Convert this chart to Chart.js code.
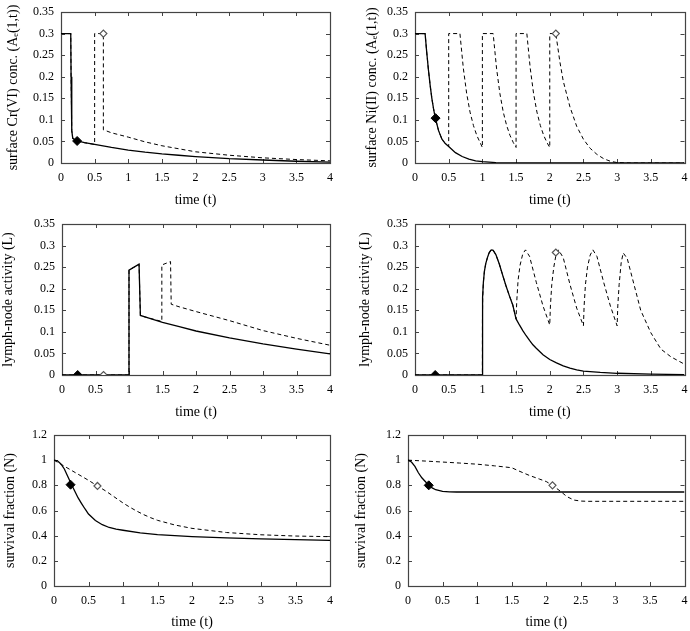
<!DOCTYPE html>
<html><head><meta charset="utf-8">
<script src="https://cdn.jsdelivr.net/npm/chart.js@4.4.1/dist/chart.umd.min.js"></script>
<style>
html,body{margin:0;padding:0;background:#fff;}
body{width:690px;height:631px;position:relative;overflow:hidden;}
canvas{position:absolute;}
</style></head><body>
<canvas id="c1" width="345" height="212" style="left:0;top:0"></canvas>
<canvas id="c2" width="345" height="212" style="left:345px;top:0"></canvas>
<canvas id="c3" width="345" height="211" style="left:0;top:212px"></canvas>
<canvas id="c4" width="345" height="211" style="left:345px;top:212px"></canvas>
<canvas id="c5" width="345" height="208" style="left:0;top:423px"></canvas>
<canvas id="c6" width="345" height="208" style="left:345px;top:423px"></canvas>
<script>
// ---- tick values and labels ----
const timeTicks = [0, 0.5, 1, 1.5, 2, 2.5, 3, 3.5, 4];
const timeTickLabels = ['0', '0.5', '1', '1.5', '2', '2.5', '3', '3.5', '4'];
const concTicks = [0, 0.05, 0.1, 0.15, 0.2, 0.25, 0.3, 0.35];
const concTickLabels = ['0', '0.05', '0.1', '0.15', '0.2', '0.25', '0.3', '0.35'];
const survTicks = [0, 0.2, 0.4, 0.6, 0.8, 1, 1.2];
const survTickLabels = ['0', '0.2', '0.4', '0.6', '0.8', '1', '1.2'];

// ---- panel 1: surface Cr(VI) ----
const crSurfSolidT = [0, 0.145, 0.15, 0.16, 0.175, 0.24, 0.35, 0.5, 0.75, 1, 1.25, 1.5, 1.75, 2, 2.5, 3, 3.5, 4];
const crSurfSolidY = [0.3, 0.3, 0.2, 0.075, 0.057, 0.051, 0.047, 0.043, 0.036, 0.03, 0.025, 0.021, 0.018, 0.015, 0.01, 0.007, 0.004, 0.002];
const crSurfDashT = [0, 0.145, 0.15, 0.16, 0.175, 0.24, 0.35, 0.5, 0.5, 0.63, 0.63, 0.75, 1, 1.25, 1.5, 2, 2.5, 3, 3.5, 4];
const crSurfDashY = [0.3, 0.3, 0.2, 0.075, 0.057, 0.051, 0.047, 0.043, 0.3, 0.3, 0.077, 0.07, 0.06, 0.049, 0.04, 0.026, 0.018, 0.012, 0.008, 0.005];
const crSurfMarkSolid = [0.24, 0.051];
const crSurfMarkDash = [0.63, 0.3];

// ---- panel 2: surface Ni(II) ----
const niSurfSolidT = [0, 0.15, 0.175, 0.2, 0.225, 0.25, 0.275, 0.3, 0.35, 0.4, 0.45, 0.5, 0.6, 0.7, 0.8, 0.9, 1, 1.2, 1.5, 4];
const niSurfSolidY = [0.3, 0.3, 0.255, 0.215, 0.18, 0.15, 0.126, 0.105, 0.075, 0.055, 0.045, 0.038, 0.024, 0.015, 0.009, 0.005, 0.003, 0.001, 0, 0];
const niSurfDashT = [0, 0.15, 0.175, 0.2, 0.225, 0.25, 0.275, 0.3, 0.35, 0.4, 0.45, 0.5,
  0.5, 0.667, 0.717, 0.767, 0.817, 0.867, 0.917, 0.967, 1.0,
  1.0, 1.16, 1.21, 1.26, 1.31, 1.36, 1.41, 1.46, 1.5,
  1.5, 1.66, 1.71, 1.76, 1.81, 1.86, 1.91, 1.96, 2.0,
  2.0, 2.09, 2.15, 2.2, 2.3, 2.4, 2.5, 2.6, 2.7, 2.8, 2.9, 3.0, 3.2, 4];
const niSurfDashY = [0.3, 0.3, 0.255, 0.215, 0.18, 0.15, 0.126, 0.105, 0.075, 0.055, 0.045, 0.038,
  0.3, 0.3, 0.22, 0.161, 0.118, 0.087, 0.064, 0.047, 0.036,
  0.3, 0.3, 0.22, 0.161, 0.118, 0.087, 0.064, 0.047, 0.036,
  0.3, 0.3, 0.22, 0.161, 0.118, 0.087, 0.064, 0.047, 0.036,
  0.3, 0.3, 0.235, 0.19, 0.13, 0.085, 0.055, 0.034, 0.02, 0.01, 0.004, 0.001, 0, 0];
const niSurfMarkSolid = [0.305, 0.104];
const niSurfMarkDash = [2.09, 0.3];

// ---- panel 3: lymph-node activity, Cr ----
const crLymphSolidT = [0, 1.0, 1.0, 1.15, 1.17, 1.25, 1.5, 1.75, 2, 2.5, 3, 3.5, 4];
const crLymphSolidY = [0, 0, 0.243, 0.257, 0.138, 0.134, 0.122, 0.112, 0.102, 0.086, 0.072, 0.06, 0.049];
const crLymphDashT = [0, 1.0, 1.0, 1.15, 1.17, 1.25, 1.49, 1.49, 1.62, 1.63, 1.75, 2, 2.5, 3, 3.5, 4];
const crLymphDashY = [0, 0, 0.243, 0.257, 0.138, 0.134, 0.124, 0.255, 0.263, 0.164, 0.158, 0.147, 0.126, 0.103, 0.085, 0.069];
const crLymphMarkSolid = [0.234, 0];
const crLymphMarkDash = [0.62, 0];

// ---- panel 4: lymph-node activity, Ni ----
const niLymphSolidT = [0, 1.0, 1.001, 1.005, 1.015, 1.03, 1.05, 1.075, 1.1, 1.125, 1.14, 1.16, 1.2, 1.25, 1.3, 1.35, 1.4, 1.45, 1.5,
  1.55, 1.6, 1.65, 1.7, 1.75, 1.8, 1.9, 2.0, 2.1, 2.2, 2.3, 2.4, 2.5, 2.75, 3.0, 3.5, 4.0];
const niLymphSolidY = [0, 0, 0.13, 0.18, 0.215, 0.24, 0.258, 0.272, 0.283, 0.289, 0.29, 0.289, 0.279, 0.258, 0.232, 0.207, 0.184, 0.163, 0.13,
  0.116, 0.103, 0.091, 0.08, 0.07, 0.062, 0.047, 0.036, 0.028, 0.021, 0.016, 0.012, 0.009, 0.006, 0.004, 0.002, 0.001];
const niLymphDashT = [0, 1.0, 1.001, 1.005, 1.015, 1.03, 1.05, 1.075, 1.1, 1.125, 1.14, 1.16, 1.2, 1.25, 1.3, 1.35, 1.4, 1.45, 1.5,
  1.51, 1.53, 1.56, 1.6, 1.64, 1.7, 1.8, 1.9, 2.0,
  2.01, 2.03, 2.06, 2.09, 2.13, 2.2, 2.3, 2.4, 2.5,
  2.51, 2.53, 2.56, 2.6, 2.64, 2.7, 2.8, 2.9, 3.0,
  3.01, 3.03, 3.06, 3.09, 3.15, 3.25, 3.35, 3.5, 3.65, 3.8, 4.0];
const niLymphDashY = [0, 0, 0.13, 0.18, 0.215, 0.24, 0.258, 0.272, 0.283, 0.289, 0.29, 0.289, 0.279, 0.258, 0.232, 0.207, 0.184, 0.163, 0.13,
  0.17, 0.22, 0.255, 0.281, 0.29, 0.275, 0.215, 0.16, 0.116,
  0.16, 0.21, 0.25, 0.276, 0.29, 0.272, 0.21, 0.155, 0.114,
  0.16, 0.21, 0.25, 0.278, 0.29, 0.275, 0.215, 0.16, 0.114,
  0.16, 0.21, 0.26, 0.283, 0.27, 0.21, 0.15, 0.098, 0.06, 0.042, 0.025];
const niLymphMarkSolid = [0.3, 0];
const niLymphMarkDash = [2.09, 0.284];

// ---- panel 5: survival fraction, Cr ----
const crSurvSolidT = [0, 0.05, 0.1, 0.15, 0.2, 0.25, 0.3, 0.35, 0.4, 0.45, 0.5, 0.6, 0.7, 0.8, 0.9, 1, 1.25, 1.5, 2, 2.5, 3, 3.5, 4];
const crSurvSolidY = [1.0, 0.995, 0.97, 0.93, 0.87, 0.81, 0.755, 0.7, 0.655, 0.612, 0.572, 0.52, 0.487, 0.465, 0.452, 0.443, 0.422, 0.409, 0.393, 0.383, 0.374, 0.368, 0.363];
const crSurvDashT = [0, 0.25, 0.5, 0.63, 0.75, 1, 1.1, 1.2, 1.3, 1.4, 1.5, 1.75, 2, 2.5, 3, 3.5, 4];
const crSurvDashY = [1.0, 0.92, 0.84, 0.795, 0.755, 0.66, 0.626, 0.595, 0.567, 0.543, 0.522, 0.485, 0.458, 0.425, 0.407, 0.397, 0.392];
const crSurvMarkSolid = [0.24, 0.805];
const crSurvMarkDash = [0.63, 0.795];

// ---- panel 6: survival fraction, Ni ----
const niSurvSolidT = [0, 0.05, 0.1, 0.15, 0.2, 0.25, 0.3, 0.35, 0.4, 0.5, 0.6, 0.7, 4];
const niSurvSolidY = [1.0, 0.985, 0.95, 0.9, 0.86, 0.83, 0.80, 0.78, 0.765, 0.752, 0.748, 0.747, 0.747];
const niSurvDashT = [0, 0.25, 0.5, 0.75, 1, 1.25, 1.5, 1.6, 1.75, 1.9, 2.0, 2.09, 2.2, 2.3, 2.4, 2.5, 2.6, 4];
const niSurvDashY = [1.0, 0.993, 0.985, 0.977, 0.968, 0.955, 0.94, 0.915, 0.88, 0.85, 0.83, 0.80, 0.755, 0.71, 0.683, 0.675, 0.673, 0.673];
const niSurvMarkSolid = [0.3, 0.8];
const niSurvMarkDash = [2.09, 0.8];

// ---- rendering ----
const FONT = "'Liberation Serif', 'Times New Roman', 'DejaVu Serif', serif";
const FRAME = '#444';

function pts(t, y) { return t.map((x, i) => ({x: x, y: y[i]})); }

const framePlugin = {
  id: 'frame',
  beforeDatasetsDraw(chart) {
    const {ctx, chartArea: a, scales: {x, y}} = chart;
    ctx.save();
    ctx.strokeStyle = FRAME;
    ctx.lineWidth = 1;
    ctx.beginPath();
    const L = 4;
    x.ticks.forEach(tk => {
      const px = Math.round(x.getPixelForValue(tk.value)) + 0.5;
      ctx.moveTo(px, a.bottom); ctx.lineTo(px, a.bottom - L);
      ctx.moveTo(px, a.top); ctx.lineTo(px, a.top + L);
    });
    y.ticks.forEach(tk => {
      const py = Math.round(y.getPixelForValue(tk.value)) + 0.5;
      ctx.moveTo(a.left, py); ctx.lineTo(a.left + L, py);
      ctx.moveTo(a.right, py); ctx.lineTo(a.right - L, py);
    });
    ctx.stroke();
    ctx.lineWidth = 1.2;
    ctx.strokeRect(Math.round(a.left) + 0.5, Math.round(a.top) + 0.5, Math.round(a.right - a.left), Math.round(a.bottom - a.top));
    ctx.restore();
  }
};

function makePanel(id, p) {
  const yTicks = p.survival ? survTicks : concTicks;
  const yLabels = p.survival ? survTickLabels : concTickLabels;
  new Chart(document.getElementById(id), {
    type: 'line',
    data: {
      datasets: [
        {data: [{x: p.markSolid[0], y: p.markSolid[1]}], showLine: false, pointStyle: 'rectRot',
         pointRadius: 4.5, pointBackgroundColor: '#000', pointBorderColor: '#000', pointBorderWidth: 1},
        {data: [{x: p.markDash[0], y: p.markDash[1]}], showLine: false, pointStyle: 'rectRot',
         pointRadius: 3.5, pointBackgroundColor: '#fff', pointBorderColor: '#555', pointBorderWidth: 1.2},
        {data: pts(p.solidT, p.solidY), borderColor: '#000', borderWidth: 1.3, pointRadius: 0, tension: 0, fill: false},
        {data: pts(p.dashT, p.dashY), borderColor: '#000', borderWidth: 1, borderDash: [4, 3], pointRadius: 0, tension: 0, fill: false}
      ]
    },
    options: {
      responsive: false,
      animation: false,
      events: [],
      layout: {padding: {left: 0, top: p.padTop, right: p.padRight, bottom: 0}},
      plugins: {legend: {display: false}, tooltip: {enabled: false}},
      scales: {
        x: {
          type: 'linear', min: 0, max: 4,
          afterBuildTicks: s => { s.ticks = timeTicks.map(v => ({value: v})); },
          afterFit: s => { s.height = p.xH; s.paddingLeft = 0; s.paddingRight = 0; },
          grid: {display: false, drawTicks: false},
          border: {display: false},
          ticks: {autoSkip: false, maxRotation: 0, minRotation: 0, padding: 8, color: '#000',
                  font: {family: FONT, size: 12}, callback: (v, i) => timeTickLabels[i]},
          title: {display: true, text: 'time (t)', color: '#000', font: {family: FONT, size: 14},
                  padding: {top: 0, bottom: p.xTitlePad}}
        },
        y: {
          type: 'linear', min: yTicks[0], max: yTicks[yTicks.length - 1],
          afterBuildTicks: s => { s.ticks = yTicks.map(v => ({value: v})); },
          afterFit: s => { s.width = p.yW; s.paddingTop = 0; s.paddingBottom = 0; },
          grid: {display: false, drawTicks: false},
          border: {display: false},
          ticks: {autoSkip: false, padding: 7, color: '#000',
                  font: {family: FONT, size: 12}, callback: (v, i) => yLabels[i]},
          title: {display: true, text: p.yTitle, color: '#000', font: {family: FONT, size: 14},
                  padding: {top: p.yTitlePad, bottom: 0}}
        }
      }
    },
    plugins: [framePlugin]
  });
}

makePanel('c1', {solidT: crSurfSolidT, solidY: crSurfSolidY, dashT: crSurfDashT, dashY: crSurfDashY,
  markSolid: crSurfMarkSolid, markDash: crSurfMarkDash, yTitle: 'surface Cr(VI) conc. (A\u2091(1,t))',
  padTop: 12, padRight: 15, yW: 61, xH: 49, xTitlePad: 3.6, yTitlePad: 5});
makePanel('c2', {solidT: niSurfSolidT, solidY: niSurfSolidY, dashT: niSurfDashT, dashY: niSurfDashY,
  markSolid: niSurfMarkSolid, markDash: niSurfMarkDash, yTitle: 'surface Ni(II) conc. (A\u2091(1,t))',
  padTop: 12, padRight: 5, yW: 70, xH: 49, xTitlePad: 3.6, yTitlePad: 18.6});
makePanel('c3', {solidT: crLymphSolidT, solidY: crLymphSolidY, dashT: crLymphDashT, dashY: crLymphDashY,
  markSolid: crLymphMarkSolid, markDash: crLymphMarkDash, yTitle: 'lymph-node activity (L)',
  padTop: 12, padRight: 15, yW: 62, xH: 48, xTitlePad: 2.6, yTitlePad: 0});
makePanel('c4', {solidT: niLymphSolidT, solidY: niLymphSolidY, dashT: niLymphDashT, dashY: niLymphDashY,
  markSolid: niLymphMarkSolid, markDash: niLymphMarkDash, yTitle: 'lymph-node activity (L)',
  padTop: 12, padRight: 5, yW: 70, xH: 48, xTitlePad: 2.6, yTitlePad: 11.6});
makePanel('c5', {solidT: crSurvSolidT, solidY: crSurvSolidY, dashT: crSurvDashT, dashY: crSurvDashY,
  markSolid: crSurvMarkSolid, markDash: crSurvMarkDash, yTitle: 'survival fraction (N)', survival: true,
  padTop: 12, padRight: 15, yW: 54, xH: 45, xTitlePad: 0, yTitlePad: 2});
makePanel('c6', {solidT: niSurvSolidT, solidY: niSurvSolidY, dashT: niSurvDashT, dashY: niSurvDashY,
  markSolid: niSurvMarkSolid, markDash: niSurvMarkDash, yTitle: 'survival fraction (N)', survival: true,
  padTop: 12, padRight: 5, yW: 63, xH: 45, xTitlePad: 0, yTitlePad: 7.6});
</script>
</body></html>
